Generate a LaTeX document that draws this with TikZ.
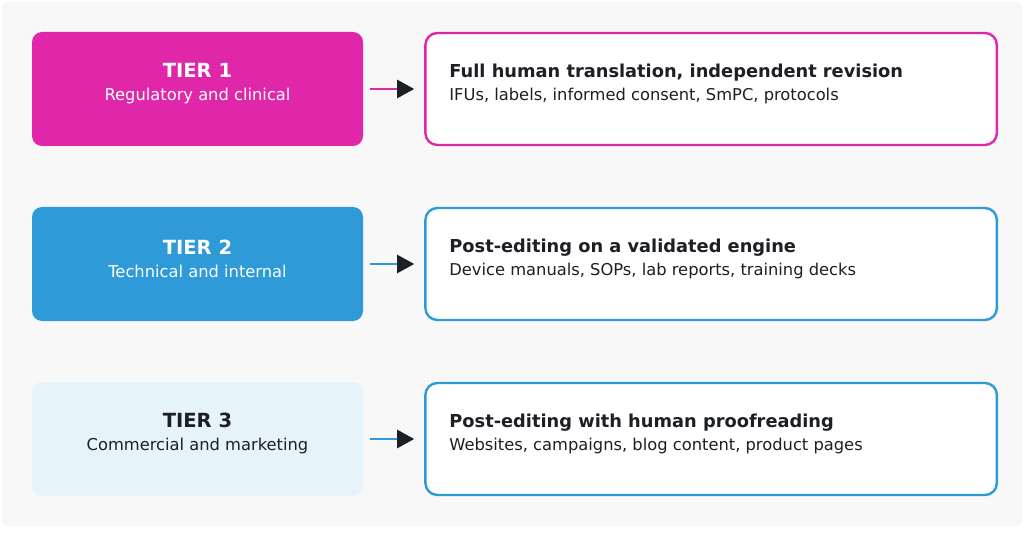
\documentclass[tikz,border=0pt]{standalone}
\usepackage{fontspec}
\setmainfont{DejaVu Sans}
\usetikzlibrary{positioning,arrows.meta}
\definecolor{MAGENTA}{HTML}{E027A9}
\definecolor{BLUE}{HTML}{2E9AD8}
\definecolor{PALE}{HTML}{E6F3FB}
\definecolor{INK}{HTML}{1C1F24}
\definecolor{BACK}{HTML}{F8F8F8}
\newcommand{\tierhead}{\fontsize{19.5}{23}\selectfont\bfseries}
\newcommand{\tiertitle}{\fontsize{17.8}{23}\selectfont\bfseries}
\newcommand{\tiersub}{\fontsize{16.3}{23}\selectfont}

\begin{document}
\begin{tikzpicture}[x=1pt,y=-1pt,node distance=61pt,
	tier/.style={rounded corners=10pt,minimum width=331pt,minimum height=114pt,inner sep=0pt},
	desc/.style={draw,fill=white,line width=2.4pt,rounded corners=12pt,minimum width=571.5pt,minimum height=112pt,inner sep=0pt},
	lines/.style={inner sep=0pt,font=\tiersub},
	link/.style={line width=2.4pt,-{Triangle[length=17pt,width=18pt,color=INK]},shorten <=7pt,shorten >=10pt}]
	\useasboundingbox (0,0) rectangle (1024,534);
	\fill[BACK,rounded corners=6pt] (2,2) rectangle (1022,526);
	
	\node[tier,fill=MAGENTA] (t1) at (197.5,89)  {};
	\node[tier,fill=BLUE]    (t2) at (197.5,264) {};
	\node[tier,fill=PALE]    (t3) at (197.5,439) {};
	\node[desc,draw=MAGENTA] (d1) [right=of t1] {};
	\node[desc,draw=BLUE]    (d2) [right=of t2] {};
	\node[desc,draw=BLUE]    (d3) [right=of t3] {};
	
	% tier labels
	\node[lines,white,align=center] (l1) at ([yshift=5.5pt]t1.center) {{\tierhead TIER 1}\\Regulatory and clinical};
	\node[lines,white,align=center] (l2) at ([yshift=5.5pt]t2.center) {{\tierhead TIER 2}\\Technical and internal};
	\node[lines,INK,align=center]   (l3) at ([yshift=5.5pt]t3.center) {{\tierhead TIER 3}\\Commercial and marketing};
	
	% workflow texts
	\node[lines,INK,align=left,anchor=west] (w1) at ([xshift=25pt,yshift=5pt]d1.west) {{\tiertitle Full human translation, independent revision}\\IFUs, labels, informed consent, SmPC, protocols};
	\node[lines,INK,align=left,anchor=west] (w2) at ([xshift=25pt,yshift=5pt]d2.west) {{\tiertitle Post-editing on a validated engine}\\Device manuals, SOPs, lab reports, training decks};
	\node[lines,INK,align=left,anchor=west] (w3) at ([xshift=25pt,yshift=5pt]d3.west) {{\tiertitle Post-editing with human proofreading}\\Websites, campaigns, blog content, product pages};
	
	\path
	(t1) edge [link,MAGENTA] (d1)
	(t2) edge [link,BLUE]    (d2)
	(t3) edge [link,BLUE]    (d3);
\end{tikzpicture}
\end{document}
